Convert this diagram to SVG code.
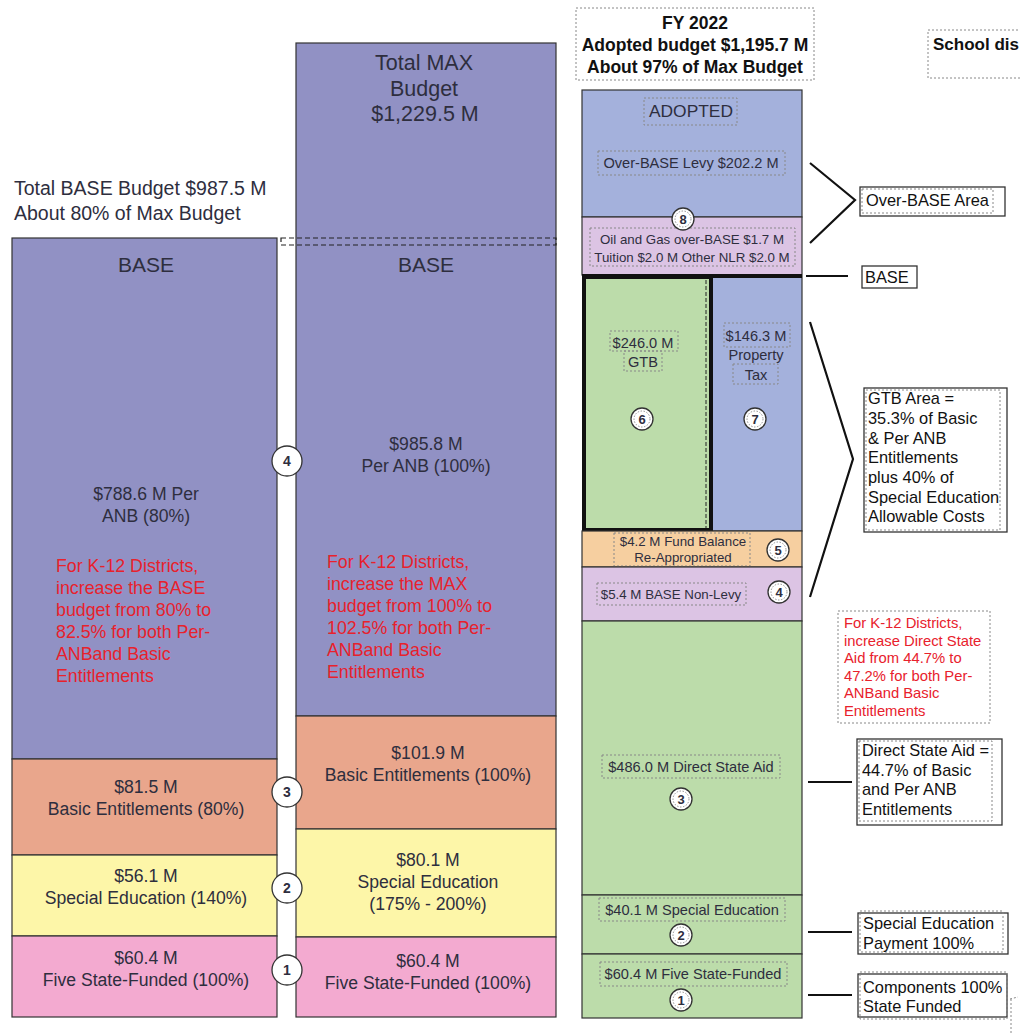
<svg xmlns="http://www.w3.org/2000/svg" width="1020" height="1033" viewBox="0 0 1020 1033">
<style>
text{font-family:"Liberation Sans",Arial,sans-serif;fill:#2e2e3e}
.band{stroke:#333;stroke-width:1.2}
.purple{fill:#9191c4}
.salmon{fill:#e9a68c}
.yellow{fill:#fdf6a8}
.pink{fill:#f3aad0}
.blue{fill:#a4b1dc}
.lav{fill:#dcc4e4}
.green{fill:#bcdcaa}
.orange{fill:#f6cfa0}
.c{text-anchor:middle}
.l17{font-size:17.6px}
.l14{font-size:14.6px}
.l13{font-size:13.3px}
.red{fill:#e8212c;font-size:17.8px}
.red13{fill:#e8212c;font-size:14.8px}
.dot{fill:none;stroke:#888;stroke-width:1;stroke-dasharray:2 2}
.box{fill:#fff;stroke:#333;stroke-width:1.3}
.num{fill:#fff;stroke:#333;stroke-width:1.3}
.numi{fill:none;stroke:#777;stroke-width:0.8;stroke-dasharray:1.5 1.5}
.numt{font-size:13px;font-weight:bold;text-anchor:middle}
.conn{stroke:#111;stroke-width:2.2;fill:none}
.ann{font-size:16.4px;fill:#111}
</style>

<!-- Left heading -->
<g id="base-title">
<text x="14" y="195" style="font-size:19.5px">Total BASE Budget $987.5 M</text>
<text x="14" y="220" style="font-size:19.5px">About 80% of Max Budget</text>
</g>

<!-- Left column -->
<g id="left-base">
<rect class="band purple" x="12" y="238" width="265" height="521"/>
<text class="c" x="146" y="272" style="font-size:21px">BASE</text>
<text class="c l17" x="146" y="500">$788.6 M Per</text>
<text class="c l17" x="146" y="522">ANB (80%)</text>
<text class="red" x="56" y="572">For K-12 Districts,</text>
<text class="red" x="56" y="594">increase the BASE</text>
<text class="red" x="56" y="616">budget from 80% to</text>
<text class="red" x="56" y="638">82.5% for both Per-</text>
<text class="red" x="56" y="660">ANBand Basic</text>
<text class="red" x="56" y="682">Entitlements</text>
</g>
<g id="left-basic">
<rect class="band salmon" x="12" y="759" width="265" height="96"/>
<text class="c l17" x="146" y="793">$81.5 M</text>
<text class="c l17" x="146" y="815">Basic Entitlements (80%)</text>
</g>
<g id="left-sped">
<rect class="band yellow" x="12" y="855" width="265" height="81"/>
<text class="c l17" x="146" y="882">$56.1 M</text>
<text class="c l17" x="146" y="904">Special Education (140%)</text>
</g>
<g id="left-five">
<rect class="band pink" x="12" y="936" width="265" height="81"/>
<text class="c l17" x="146" y="964">$60.4 M</text>
<text class="c l17" x="146" y="986">Five State-Funded (100%)</text>
</g>

<!-- Middle column -->
<g id="mid-max">
<rect class="band purple" x="296" y="43" width="260" height="673"/>
<text class="c" x="424" y="70" style="font-size:21.5px">Total MAX</text>
<text class="c" x="424" y="96" style="font-size:21.5px">Budget</text>
<text class="c" x="425" y="121" style="font-size:21.5px">$1,229.5 M</text>
<rect x="281" y="238" width="275" height="7" fill="none" stroke="#222" stroke-width="1.2" stroke-dasharray="5 3"/>
<text class="c" x="426" y="272" style="font-size:21px">BASE</text>
<text class="c l17" x="426" y="450">$985.8 M</text>
<text class="c l17" x="426" y="472">Per ANB (100%)</text>
<text class="red" x="327" y="568">For K-12 Districts,</text>
<text class="red" x="327" y="590">increase the MAX</text>
<text class="red" x="327" y="612">budget from 100% to</text>
<text class="red" x="327" y="634">102.5% for both Per-</text>
<text class="red" x="327" y="656">ANBand Basic</text>
<text class="red" x="327" y="678">Entitlements</text>
</g>
<g id="mid-basic">
<rect class="band salmon" x="296" y="716" width="260" height="113"/>
<text class="c l17" x="428" y="759">$101.9 M</text>
<text class="c l17" x="428" y="781">Basic Entitlements (100%)</text>
</g>
<g id="mid-sped">
<rect class="band yellow" x="296" y="829" width="260" height="108"/>
<text class="c l17" x="428" y="866">$80.1 M</text>
<text class="c l17" x="428" y="888">Special Education</text>
<text class="c l17" x="428" y="910">(175% - 200%)</text>
</g>
<g id="mid-five">
<rect class="band pink" x="296" y="937" width="260" height="80"/>
<text class="c l17" x="428" y="967">$60.4 M</text>
<text class="c l17" x="428" y="989">Five State-Funded (100%)</text>
</g>

<!-- Middle numbered circles -->
<g id="mid-circles">
<circle class="num" cx="287" cy="461" r="15"/><text class="numt" x="287" y="466" style="font-size:14px">4</text>
<circle class="num" cx="287" cy="792" r="15"/><text class="numt" x="287" y="797" style="font-size:14px">3</text>
<circle class="num" cx="287" cy="888" r="15"/><text class="numt" x="287" y="893" style="font-size:14px">2</text>
<circle class="num" cx="287" cy="970" r="15"/><text class="numt" x="287" y="975" style="font-size:14px">1</text>
</g>

<!-- Right: adopted -->
<g id="fy-title">
<rect class="dot" x="576" y="8" width="238" height="72"/>
<text class="c" x="695" y="29" style="font-size:17.5px;font-weight:bold;fill:#111">FY 2022</text>
<text class="c" x="695" y="51" style="font-size:17.5px;font-weight:bold;fill:#111">Adopted budget $1,195.7 M</text>
<text class="c" x="695" y="73" style="font-size:17.5px;font-weight:bold;fill:#111">About 97% of Max Budget</text>
</g>
<g id="school-dis">
<rect class="dot" x="928" y="30" width="100" height="48"/>
<text x="933" y="50" style="font-size:17px;font-weight:bold;fill:#111">School dis</text>
</g>

<g id="over-base-levy">
<rect class="band blue" x="582" y="90" width="220" height="127"/>
<rect class="dot" x="644" y="98" width="93" height="27"/>
<text class="c" x="691" y="117" style="font-size:17.4px">ADOPTED</text>
<rect class="dot" x="598" y="151" width="187" height="24"/>
<text class="c l14" x="691" y="168">Over-BASE Levy $202.2 M</text>
</g>
<g id="other-nlr">
<rect class="band lav" x="582" y="217" width="220" height="58"/>
<rect class="dot" x="590" y="228" width="205" height="38"/>
<text class="c l13" x="692" y="244">Oil and Gas over-BASE $1.7 M</text>
<text class="c l13" x="692" y="262">Tuition $2.0 M Other NLR $2.0 M</text>
<circle class="num" cx="683" cy="219" r="11"/><circle class="numi" cx="683" cy="219" r="8"/><text class="numt" x="683" y="224">8</text>
</g>
<g id="property-tax">
<rect class="blue" x="712" y="276" width="90" height="255" stroke="#333" stroke-width="1.2"/>
<rect class="dot" x="724" y="323" width="66" height="24"/>
<rect class="dot" x="733" y="364" width="45" height="20"/>
<text class="c l14" x="756" y="341">$146.3 M</text>
<text class="c l14" x="756" y="360">Property</text>
<text class="c l14" x="756" y="380">Tax</text>
<circle class="num" cx="755" cy="419" r="11"/><circle class="numi" cx="755" cy="419" r="8"/><text class="numt" x="755" y="424">7</text>
</g>
<g id="gtb">
<rect class="green" x="584" y="277" width="127" height="253" stroke="#111" stroke-width="4"/>
<line x1="706" y1="280" x2="706" y2="528" stroke="#222" stroke-width="1" stroke-dasharray="4 2"/>
<rect class="dot" x="610" y="331" width="68" height="20"/>
<rect class="dot" x="624" y="351" width="38" height="20"/>
<text class="c l14" x="643" y="348">$246.0 M</text>
<text class="c l14" x="643" y="367">GTB</text>
<circle class="num" cx="642" cy="419" r="11"/><circle class="numi" cx="642" cy="419" r="8"/><text class="numt" x="642" y="424">6</text>
</g>
<line x1="582" y1="276" x2="802" y2="276" stroke="#111" stroke-width="4"/>
<g id="fund-balance">
<rect class="band orange" x="582" y="531" width="220" height="36"/>
<rect class="dot" x="614" y="533" width="136" height="33"/>
<text class="c l13" x="683" y="546">$4.2 M Fund Balance</text>
<text class="c l13" x="683" y="562">Re-Appropriated</text>
<circle class="num" cx="778" cy="550" r="11"/><circle class="numi" cx="778" cy="550" r="8"/><text class="numt" x="778" y="555">5</text>
</g>
<g id="base-non-levy">
<rect class="band lav" x="582" y="567" width="220" height="54"/>
<rect class="dot" x="597" y="583" width="149" height="22"/>
<text class="c l13" x="671" y="599">$5.4 M BASE Non-Levy</text>
<circle class="num" cx="779" cy="592" r="11"/><circle class="numi" cx="779" cy="592" r="8"/><text class="numt" x="779" y="597">4</text>
</g>
<g id="direct-state-aid">
<rect class="band green" x="582" y="621" width="220" height="274"/>
<rect class="dot" x="602" y="755" width="178" height="23"/>
<text class="c l14" x="691" y="772">$486.0 M Direct State Aid</text>
<circle class="num" cx="681" cy="799" r="11"/><circle class="numi" cx="681" cy="799" r="8"/><text class="numt" x="681" y="804">3</text>
</g>
<g id="adopted-sped">
<rect class="band green" x="582" y="895" width="220" height="59"/>
<rect class="dot" x="599" y="898" width="186" height="23"/>
<text class="c l14" x="692" y="915">$40.1 M Special Education</text>
<circle class="num" cx="681" cy="935" r="11"/><circle class="numi" cx="681" cy="935" r="8"/><text class="numt" x="681" y="940">2</text>
</g>
<g id="adopted-five">
<rect class="band green" x="582" y="954" width="220" height="64"/>
<rect class="dot" x="600" y="962" width="187" height="24"/>
<text class="c l14" x="693" y="979">$60.4 M Five State-Funded</text>
<circle class="num" cx="681" cy="1000" r="11"/><circle class="numi" cx="681" cy="1000" r="8"/><text class="numt" x="681" y="1005">1</text>
</g>

<!-- Connectors -->
<g id="connectors">
<polyline class="conn" points="810,163 855,200 810,243"/>
<line class="conn" x1="806" y1="276" x2="848" y2="276" stroke-width="3"/>
<polyline class="conn" points="810,322 853,459 810,597"/>
<line class="conn" x1="808" y1="782" x2="852" y2="782" stroke-width="3"/>
<line class="conn" x1="808" y1="932" x2="852" y2="932" stroke-width="3"/>
<line class="conn" x1="808" y1="995" x2="852" y2="995" stroke-width="3"/>
</g>

<!-- Annotation boxes -->
<g id="over-base-area">
<rect class="box" x="860" y="187" width="145" height="29"/>
<rect class="dot" x="862" y="189" width="131" height="24"/>
<text class="ann" x="866" y="206">Over-BASE Area</text>
</g>
<g id="base-label">
<rect class="box" x="862" y="266" width="55" height="22"/>
<text class="ann" x="865" y="283">BASE</text>
</g>
<g id="gtb-area">
<rect class="box" x="864" y="388" width="143" height="144"/>
<rect class="dot" x="866" y="390" width="134" height="140"/>
<text class="ann" x="868" y="404">GTB Area =</text>
<text class="ann" x="868" y="424">35.3% of Basic</text>
<text class="ann" x="868" y="444">&amp; Per ANB</text>
<text class="ann" x="868" y="463">Entitlements</text>
<text class="ann" x="868" y="483">plus 40% of</text>
<text class="ann" x="868" y="503">Special Education</text>
<text class="ann" x="868" y="522">Allowable Costs</text>
</g>
<g id="k12-dsa">
<rect class="dot" x="838" y="611" width="152" height="112"/>
<text class="red13" x="844" y="628">For K-12 Districts,</text>
<text class="red13" x="844" y="646">increase Direct State</text>
<text class="red13" x="844" y="663">Aid from 44.7% to</text>
<text class="red13" x="844" y="681">47.2% for both Per-</text>
<text class="red13" x="844" y="698">ANBand Basic</text>
<text class="red13" x="844" y="716">Entitlements</text>
</g>
<g id="dsa-box">
<rect class="box" x="857" y="739" width="145" height="86"/>
<rect class="dot" x="859" y="741" width="133" height="80"/>
<text class="ann" x="862" y="756">Direct State Aid =</text>
<text class="ann" x="862" y="776">44.7% of Basic</text>
<text class="ann" x="862" y="795">and Per ANB</text>
<text class="ann" x="862" y="815">Entitlements</text>
</g>
<g id="sped-box">
<rect class="box" x="858" y="913" width="150" height="41"/>
<rect class="dot" x="860" y="911" width="143" height="41"/>
<text class="ann" x="863" y="929">Special Education</text>
<text class="ann" x="863" y="949">Payment 100%</text>
</g>
<g id="components-box">
<rect class="box" x="858" y="974" width="149" height="43"/>
<rect class="dot" x="860" y="972" width="147" height="47"/>
<text class="ann" x="863" y="993">Components 100%</text>
<text class="ann" x="863" y="1012">State Funded</text>
<polyline class="dot" points="1010,999 1018,997" />
<line class="dot" x1="1011" y1="999" x2="1011" y2="1033"/>
</g>
</svg>
